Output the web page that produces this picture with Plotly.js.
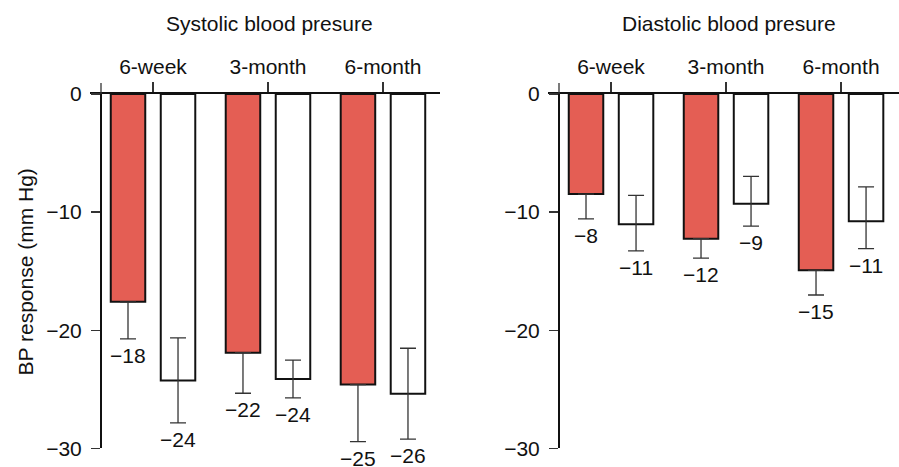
<!DOCTYPE html>
<html>
<head>
<meta charset="utf-8">
<script src="https://cdn.plot.ly/plotly-3.0.1.min.js"></script>
<style>html,body{margin:0;padding:0;background:#fff}#chart{width:899px;height:467px}</style>
</head>
<body>
<div id="chart"></div>
<script>
// ---- data ----
const periods = ['6-week', '3-month', '6-month'];
const panelTitles = ['Systolic blood presure', 'Diastolic blood presure'];
const yTickVals = [0, -10, -20, -30];
const yTickText = ['0', '\u221210', '\u221220', '\u221230'];

// Systolic
const sysRed = [-17.6, -21.9, -24.6];
const sysRedErrMinus = [3.14, 3.44, 4.84];
const sysWhite = [-24.25, -24.13, -25.38];
const sysWhiteErrPlus = [3.6, 1.6, 3.85];
const sysWhiteErrMinus = [3.6, 1.6, 3.85];
const sysRedLabels = ['\u221218', '\u221222', '\u221225'];
const sysWhiteLabels = ['\u221224', '\u221224', '\u221226'];

// Diastolic
const diaRed = [-8.47, -12.25, -14.93];
const diaRedErrMinus = [2.1, 1.64, 2.09];
const diaWhite = [-11.03, -9.29, -10.78];
const diaWhiteErrPlus = [2.45, 2.32, 2.91];
const diaWhiteErrMinus = [2.26, 1.89, 2.32];
const diaRedLabels = ['\u22128', '\u221212', '\u221215'];
const diaWhiteLabels = ['\u221211', '\u22129', '\u221211'];

// ---- styling ----
const W = 899, H = 467;
const RED = '#E45E54';
const FONT = {family: 'Liberation Sans, Arial, Helvetica, sans-serif', size: 21, color: '#111'};
const px = v => v / W;
const py = v => (H - v) / H;
const errStyle = {color: '#333', thickness: 1.3, width: 8};

function barPair(xa, ya, red, redMinus, white, wPlus, wMinus) {
  return [
    {type: 'bar', x: periods, y: red, xaxis: xa, yaxis: ya,
     marker: {color: RED, line: {color: '#111', width: 2}},
     error_y: Object.assign({type: 'data', symmetric: false,
       array: red.map(() => 0), arrayminus: redMinus}, errStyle),
     showlegend: false, hoverinfo: 'none'},
    {type: 'bar', x: periods, y: white, xaxis: xa, yaxis: ya,
     marker: {color: '#ffffff', line: {color: '#111', width: 2}},
     error_y: Object.assign({type: 'data', symmetric: false,
       array: wPlus, arrayminus: wMinus}, errStyle),
     showlegend: false, hoverinfo: 'none'}
  ];
}

const data = [
  ...barPair('x', 'y', sysRed, sysRedErrMinus, sysWhite, sysWhiteErrPlus, sysWhiteErrMinus),
  ...barPair('x2', 'y2', diaRed, diaRedErrMinus, diaWhite, diaWhiteErrPlus, diaWhiteErrMinus)
];

function labelAnns(xref, yref, vals, errs, labels, shift) {
  return vals.map((v, i) => ({
    xref: xref, yref: yref, x: periods[i], y: v - errs[i],
    text: labels[i], showarrow: false, xshift: shift, yshift: -3,
    yanchor: 'top', xanchor: 'center', font: FONT
  }));
}

const annotations = [
  ...labelAnns('x', 'y', sysRed, sysRedErrMinus, sysRedLabels, -25),
  ...labelAnns('x', 'y', sysWhite, sysWhiteErrMinus, sysWhiteLabels, 25),
  ...labelAnns('x2', 'y2', diaRed, diaRedErrMinus, diaRedLabels, -25),
  ...labelAnns('x2', 'y2', diaWhite, diaWhiteErrMinus, diaWhiteLabels, 25),
  {xref: 'paper', yref: 'paper', x: px(269), y: py(23), text: panelTitles[0],
   showarrow: false, xanchor: 'center', yanchor: 'middle', font: FONT},
  {xref: 'paper', yref: 'paper', x: px(729), y: py(23), text: panelTitles[1],
   showarrow: false, xanchor: 'center', yanchor: 'middle', font: FONT},
  {xref: 'paper', yref: 'paper', x: px(25), y: py(272.5), text: 'BP response (mm Hg)',
   textangle: -90, showarrow: false, xanchor: 'center', yanchor: 'middle', font: FONT}
];

const xCommon = {
  type: 'category', side: 'top', showline: true, linecolor: '#111', linewidth: 2,
  ticks: 'outside', ticklen: 10, tickwidth: 1.3, tickcolor: '#333',
  showgrid: false, zeroline: false, tickfont: FONT, range: [-0.548, 2.496],
  fixedrange: true
};
const yCommon = {
  range: [-30, 0], showline: true, linecolor: '#111', linewidth: 2,
  ticks: 'outside', ticklen: 9, tickwidth: 1.3, tickcolor: '#333',
  tickmode: 'array', tickvals: yTickVals, ticktext: yTickText,
  ticklabelstandoff: 5,
  showgrid: false, zeroline: false, tickfont: FONT, anchor: 'free',
  domain: [py(448.3), py(94)], fixedrange: true
};

const layout = {
  width: W, height: H,
  margin: {l: 0, r: 0, t: 0, b: 0, pad: 0},
  paper_bgcolor: '#fff', plot_bgcolor: 'rgba(0,0,0,0)',
  font: FONT,
  barmode: 'group', bargap: 0.13, bargroupgap: 0.31,
  xaxis: Object.assign({}, xCommon, {domain: [px(90), px(440)], anchor: 'y'}),
  yaxis: Object.assign({}, yCommon, {position: px(101)}),
  xaxis2: Object.assign({}, xCommon, {domain: [px(548), px(899)], anchor: 'y2',
    range: [-0.548, 2.504]}),
  yaxis2: Object.assign({}, yCommon, {position: px(559)}),
  annotations: annotations,
  shapes: [
    {type: 'line', xref: 'paper', yref: 'paper', x0: px(101), x1: px(101),
     y0: py(94), y1: py(83), line: {color: '#333', width: 1.3}},
    {type: 'line', xref: 'paper', yref: 'paper', x0: px(559), x1: px(559),
     y0: py(94), y1: py(83), line: {color: '#333', width: 1.3}}
  ]
};

Plotly.newPlot('chart', data, layout, {displayModeBar: false, staticPlot: true});
</script>
</body>
</html>
